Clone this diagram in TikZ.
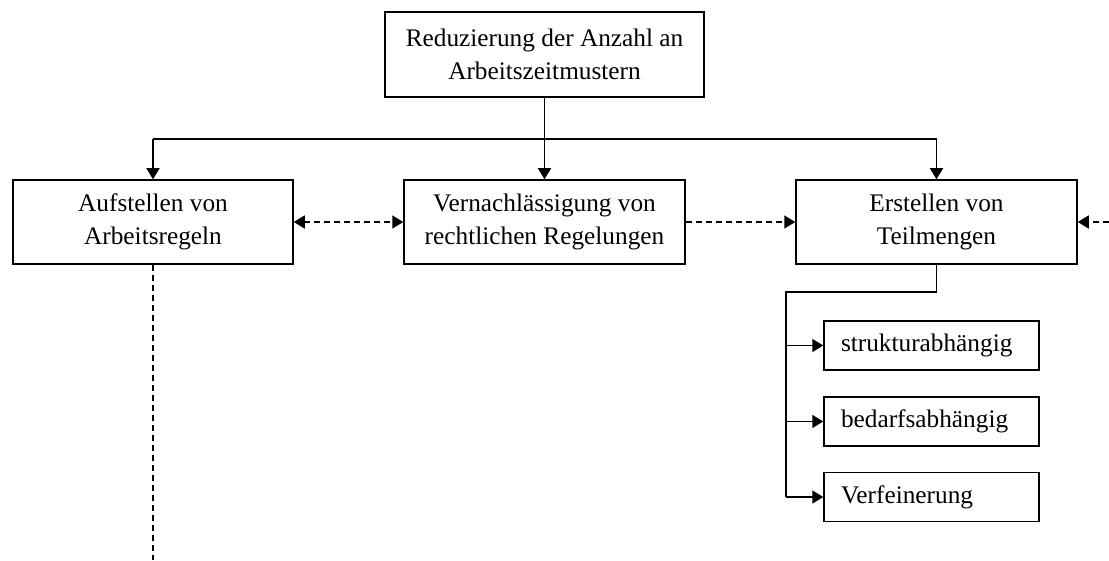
\documentclass[tikz,border=0pt]{standalone}
\usepackage{fontspec}
\setmainfont{Liberation Serif}
\usetikzlibrary{arrows.meta,calc}
\begin{document}
\begin{tikzpicture}[x=1pt,y=1pt,
  box/.style={draw,line width=1.5pt,inner sep=0pt,align=center,
    font=\fontsize{25.3}{33}\selectfont},
  subbox/.style={draw,line width=1.5pt,inner xsep=17pt,inner ysep=0pt,
    text width=181pt,align=left,minimum height=49pt,
    font=\fontsize{25.3}{33}\selectfont},
  conn/.style={line width=1.6pt},
  tip/.style={-{Triangle[length=11pt,width=13pt]}},
  dsh/.style={line width=1.6pt,dash pattern=on 6pt off 4pt}]
\useasboundingbox (0,0) rectangle (1109,560);
\node[box,minimum width=319pt,minimum height=85pt] (top) at (544.5,505.5)
  {Reduzierung der Anzahl an\\Arbeitszeitmustern};
\node[box,minimum width=280pt,minimum height=84pt] (left) at (153,338)
  {Aufstellen von\\Arbeitsregeln};
\node[box,minimum width=281pt,minimum height=84pt] (mid) at (544.5,338)
  {Vernachlässigung von\\rechtlichen Regelungen};
\node[box,minimum width=281pt,minimum height=84pt] (right) at (936.5,338)
  {Erstellen von\\Teilmengen};
\node[subbox] (s1) at (931.5,214.5) {strukturabhängig};
\node[subbox] (s2) at (931.5,138.5) {bedarfsabhängig};
\node[subbox] (s3) at (931.5,63) {Verfeinerung};
\coordinate (bus) at (544.5,421);
\coordinate (sp) at (786,268);
\coordinate (edge) at (1109,338);
\coordinate (dend) at (153,0);
% tree from top
\draw[conn] (top.south) -- (bus);
\draw[conn] (left.north |- bus) -- (right.north |- bus);
\draw[conn,tip] (bus) -- (mid.north);
\draw[conn,tip] (left.north |- bus) -- (left.north);
\draw[conn,tip] (right.north |- bus) -- (right.north);
% dashed relations
\draw[dsh,{Triangle[length=11pt,width=13pt]}-{Triangle[length=11pt,width=13pt]}] (left.east) -- (mid.west);
\draw[dsh,tip] (mid.east) -- (right.west);
\draw[dsh,tip] (edge) -- (right.east);
\draw[dsh] (left.south) -- (dend);
% sub tree
\draw[conn] (right.south) |- (sp) -- (sp |- s3.west);
\draw[conn,tip] (sp |- s1.west) -- (s1.west);
\draw[conn,tip] (sp |- s2.west) -- (s2.west);
\draw[conn,tip] (sp |- s3.west) -- (s3.west);
\end{tikzpicture}
\end{document}
